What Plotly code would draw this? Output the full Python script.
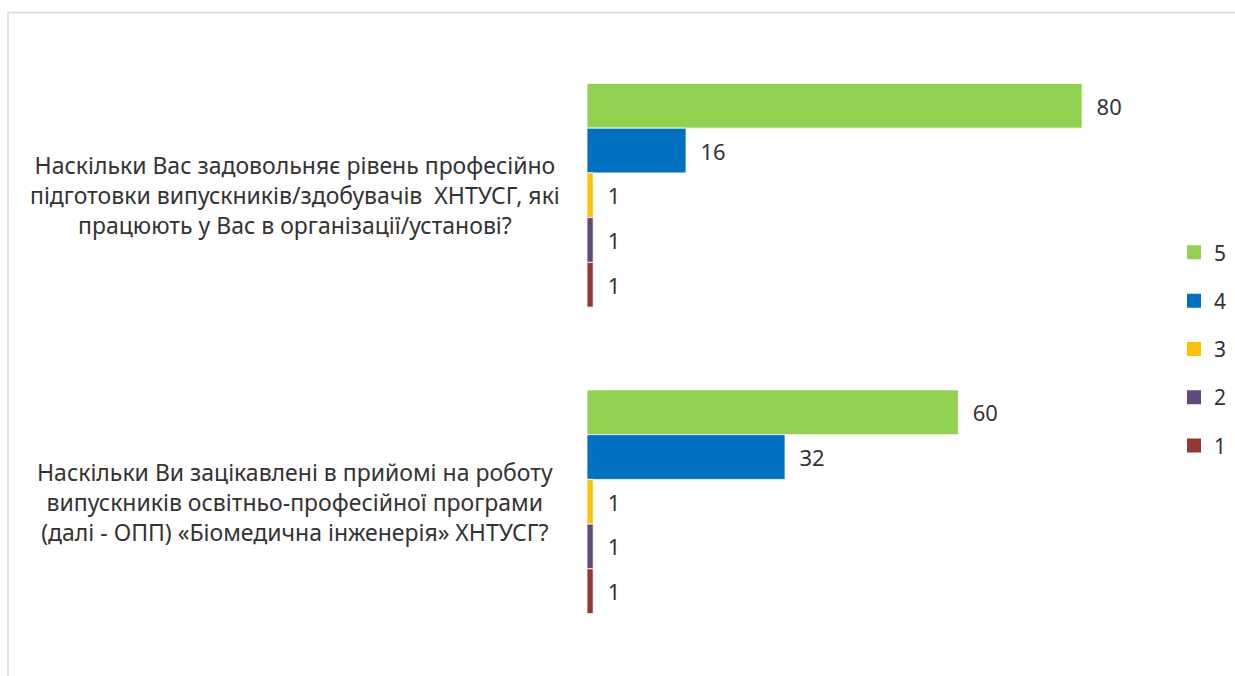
import plotly.graph_objects as go

questions = [
    "Наскільки Вас задовольняє рівень професійно<br>підготовки випускників/здобувачів\u00a0 ХНТУСГ, які<br>працюють у Вас в організації/установі?",
    "Наскільки Ви зацікавлені в прийомі на роботу<br>випускників освітньо-професійної програми<br>(далі - ОПП) «Біомедична інженерія» ХНТУСГ?",
]
categories = ["Q1", "Q2"]
series_names = ["5", "4", "3", "2", "1"]
values_5 = [80, 60]
values_4 = [16, 32]
values_3 = [1, 1]
values_2 = [1, 1]
values_1 = [1, 1]
series_values = [values_5, values_4, values_3, values_2, values_1]
colors = ["#92D050", "#0070C0", "#FFC000", "#604A7B", "#953735"]

W, H = 1235, 676
L, R, T, B = 587, 1235 - 1144, 41.5, 676 - 655.5
pw, ph = W - L - R, H - T - B

def px_x(p):
    return (p - L) / pw

def px_y(p):
    return (H - B - p) / ph

FONT = "Noto Sans"
TXT = "#333333"
fig = go.Figure()
for name, vals, col in zip(series_names, series_values, colors):
    fig.add_trace(go.Bar(
        y=categories, x=vals, name=name, orientation="h",
        marker=dict(color=col, line=dict(color="white", width=0.8)),
        text=vals, texttemplate="\u00a0\u00a0%{x}", textposition="outside",
        textfont=dict(family=FONT, size=22, color=TXT),
        cliponaxis=False, legendgroup=name, showlegend=False, hoverinfo="skip",
    ))
# legend entries (square swatches)
for name, col in zip(series_names, colors):
    fig.add_trace(go.Scatter(
        x=[None], y=[None], mode="markers", name=name, legendgroup=name,
        marker=dict(symbol="square", size=14, color=col), hoverinfo="skip",
    ))

for cat, q in zip(categories, questions):
    fig.add_annotation(
        x=px_x(295), xref="paper", y=cat, yref="y", text=q, showarrow=False,
        xanchor="center", yanchor="middle", align="center",
        font=dict(family=FONT, size=23, color=TXT),
    )

fig.add_shape(type="rect", xref="paper", yref="paper",
              x0=px_x(8), x1=px_x(1250), y0=px_y(690), y1=px_y(12),
              line=dict(color="#D9D9D9", width=1.5), layer="below")

fig.update_layout(
    width=W, height=H,
    margin=dict(l=L, r=R, t=T, b=B, pad=0, autoexpand=False),
    paper_bgcolor="white", plot_bgcolor="white",
    barmode="group", bargap=0.27, bargroupgap=0,
    showlegend=True,
    legend=dict(x=px_x(1174), y=px_y(232), xanchor="left", yanchor="top",
                traceorder="grouped", tracegroupgap=18,
                font=dict(family=FONT, size=21, color=TXT),
                bgcolor="rgba(0,0,0,0)"),
    font=dict(family=FONT, color=TXT),
)
fig.update_xaxes(range=[0, 90], showgrid=False, zeroline=False, showticklabels=False,
                 showline=False, ticks="")
fig.update_yaxes(categoryorder="array", categoryarray=categories,
                 autorange="reversed", showgrid=False, zeroline=False, showticklabels=False,
                 showline=False, ticks="")

fig.write_html("out.html", config={"displayModeBar": False},
               post_script="document.body.style.margin='0';")
